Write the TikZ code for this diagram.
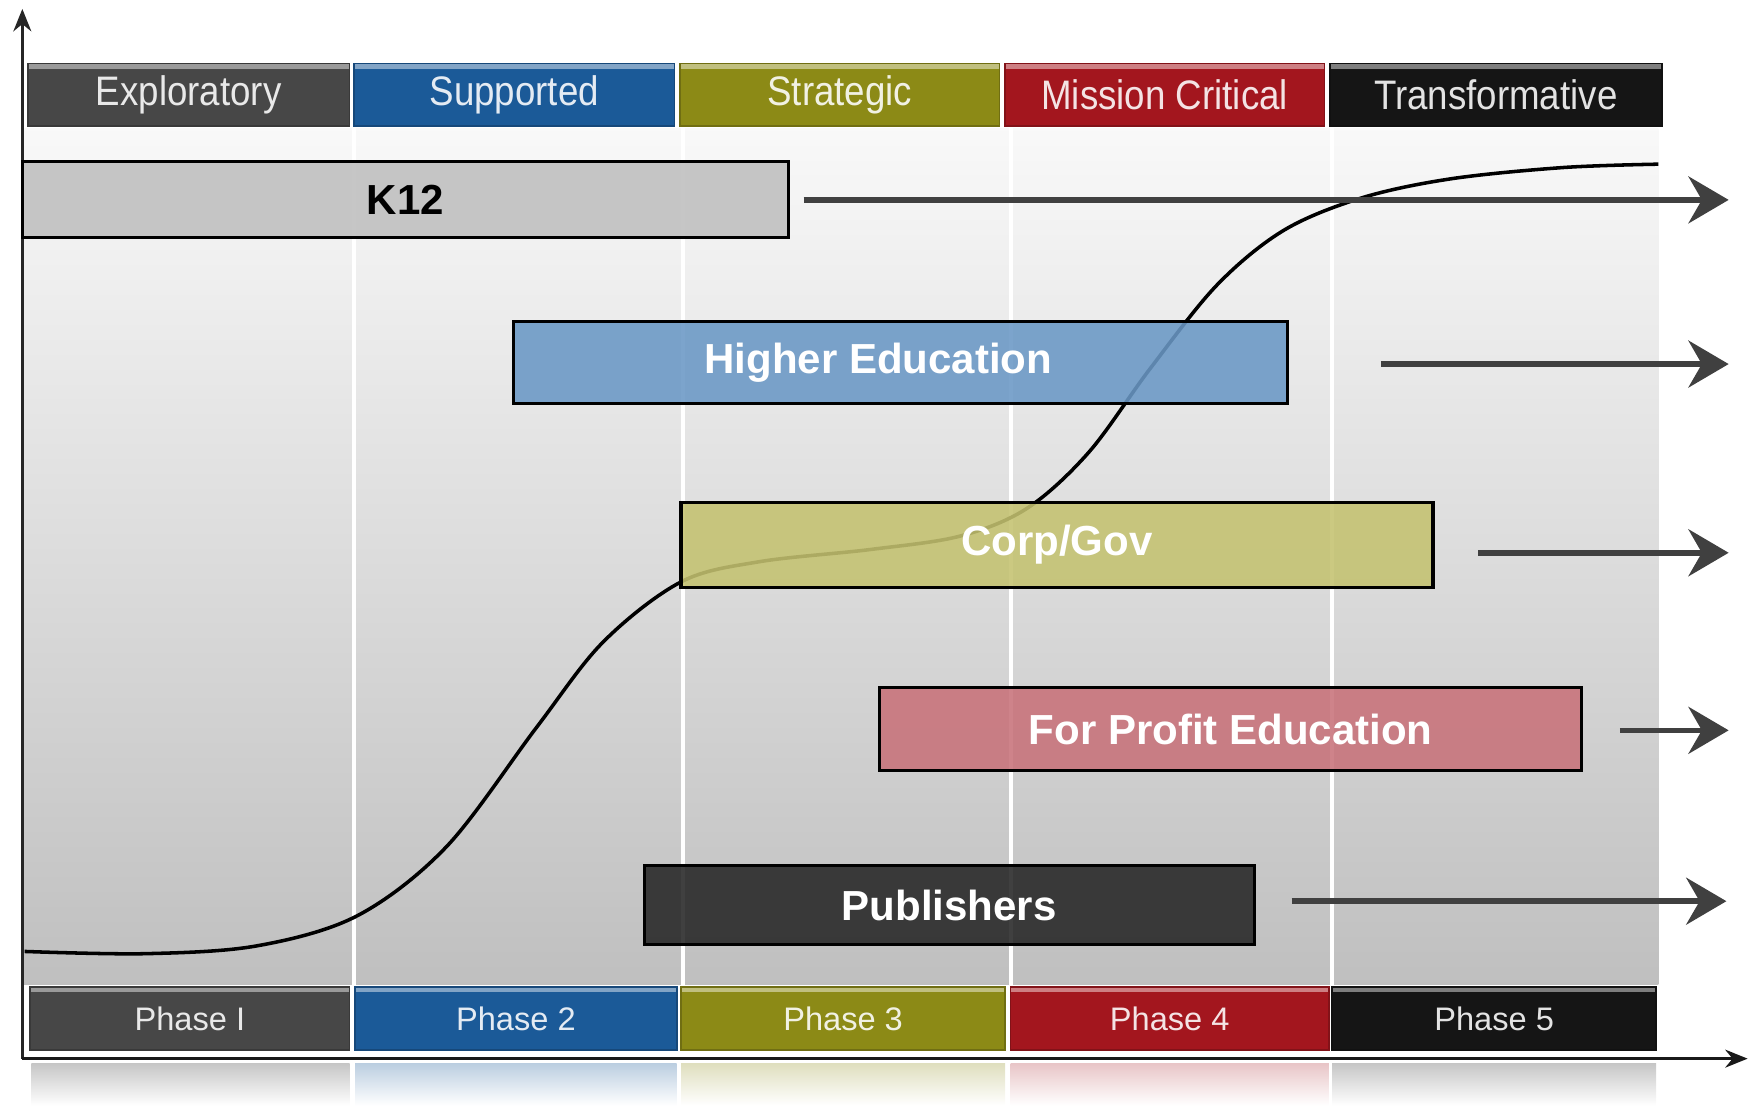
\documentclass[tikz,border=0pt]{standalone}
\usepackage{fontspec}
\setmainfont{Liberation Sans}
\usetikzlibrary{arrows.meta}

\definecolor{explgray}{HTML}{474747}
\definecolor{suppblue}{HTML}{1B5A98}
\definecolor{stratolive}{HTML}{8C8A16}
\definecolor{critred}{HTML}{A3161E}
\definecolor{transblack}{HTML}{151515}
\definecolor{k12fill}{HTML}{BFBFBF}
\definecolor{hefill}{HTML}{6A98C5}
\definecolor{corpfill}{HTML}{C4C270}
\definecolor{profitfill}{HTML}{C8727A}
\definecolor{pubfill}{HTML}{262626}
\definecolor{flowgray}{HTML}{404040}

\newcommand{\narrowtext}[1]{\scalebox{0.89}[1]{#1}}

\tikzset{
	stagebar/.style={rectangle, fill=#1, draw=#1!80!black, line width=0.4pt,
		text=#1!12!white, minimum height=0.56cm, inner sep=0pt,
		font=\fontsize{10.5}{12}\selectfont,
		path picture={\fill[#1!55!white] (path picture bounding box.north west)
			rectangle ([yshift=-1.3pt]path picture bounding box.north east);}},
	phasebar/.style={stagebar=#1, font=\fontsize{8.3}{10}\selectfont},
	segment/.style={rectangle, draw=black, line width=0.8pt, fill=#1,
		fill opacity=0.88, text opacity=1, text=white, inner sep=0pt,
		font=\bfseries\fontsize{10.7}{13}\selectfont},
	flow/.style={draw=flowgray, line width=1.4pt,
		-{Stealth[length=0.36cm,width=0.42cm,inset=0.12cm]}},
}

\begin{document}
\begin{tikzpicture}[x=0.01cm, y=-0.01cm]
	
	\useasboundingbox (0,0) rectangle (1568,990);
	
	% background panel and column lines
	\shade [top color=gray!5, middle color=gray!20, bottom color=gray!50] (20,115) rectangle (1485,882);
	\draw [white, line width=1pt] (317,115) -- (317,882);
	\draw [white, line width=1pt] (612,115) -- (612,882);
	\draw [white, line width=1pt] (905,115) -- (905,882);
	\draw [white, line width=1pt] (1193,115) -- (1193,882);
	
	% reflection under the time axis
	\shade [top color=gray!45, bottom color=white] (28,952) rectangle (313,990);
	\shade [top color=suppblue!30, bottom color=white] (318,952) rectangle (606,990);
	\shade [top color=stratolive!28, bottom color=white] (610,952) rectangle (900,990);
	\shade [top color=critred!25, bottom color=white] (905,952) rectangle (1190,990);
	\shade [top color=gray!45, bottom color=white] (1193,952) rectangle (1483,990);
	
	% stages
	\node [stagebar=explgray, minimum width=2.88cm] (expl) at (169,85) {\narrowtext{Exploratory}};
	\node [stagebar=suppblue, minimum width=2.87cm] (supp) at (460.5,85) {\narrowtext{Supported}};
	\node [stagebar=stratolive, minimum width=2.86cm] (strat) at (752,85) {\narrowtext{Strategic}};
	\node [stagebar=critred, minimum width=2.86cm] (crit) at (1043,85) {\narrowtext{Mission Critical}};
	\node [stagebar=transblack, minimum width=2.97cm] (trans) at (1339.5,85) {\narrowtext{Transformative}};
	
	% phases
	\node [phasebar=explgray, minimum width=2.86cm] (ph1) at (170,912) {Phase I};
	\node [phasebar=suppblue, minimum width=2.88cm] (ph2) at (462,912) {Phase 2};
	\node [phasebar=stratolive, minimum width=2.90cm] (ph3) at (755,912) {Phase 3};
	\node [phasebar=critred, minimum width=2.85cm] (ph4) at (1047.5,912) {Phase 4};
	\node [phasebar=transblack, minimum width=2.90cm] (ph5) at (1338,912) {Phase 5};
	
	% axes
	\coordinate (origin) at (20,948);
	\coordinate (ytop) at (20,8);
	\coordinate (xend) at (1565,948);
	\draw [line width=0.8pt, black!85, -{Stealth[length=0.2cm,width=0.16cm]}] (origin) -- (ytop);
	\draw [line width=0.8pt, black!90, -{Stealth[length=0.2cm,width=0.16cm]}] (origin) -- (xend);
	
	% adoption curve
	\draw [line width=0.9pt, black] plot [smooth, tension=0.55] coordinates {
		(22,852) (130,854) (230,847) (320,820) (400,758) (480,652)
		(540,575) (610,521) (680,503) (780,492) (860,480)
		(920,455) (975,405) (1030,330) (1090,255) (1150,206)
		(1220,177) (1300,160) (1400,150) (1485,147)};
	
	% segments
	\node [segment=k12fill, text=black, minimum width=6.86cm, minimum height=0.68cm] (k12) at (363,179) {K12};
	\node [segment=hefill, minimum width=6.93cm, minimum height=0.73cm] (he) at (806.5,324.5) {Higher Education\hspace*{0.4cm}};
	\node [segment=corpfill, minimum width=6.73cm, minimum height=0.76cm] (corp) at (946.5,488) {Corp/Gov};
	\node [segment=profitfill, minimum width=6.28cm, minimum height=0.74cm] (profit) at (1102,653) {For Profit Education};
	\node [segment=pubfill, minimum width=5.46cm, minimum height=0.71cm] (pub) at (850,810.5) {Publishers};
	
	\coordinate (k12end) at (1548,179);
	\coordinate (heend) at (1548,326);
	\coordinate (corpend) at (1548,495);
	\coordinate (profitend) at (1548,654);
	\coordinate (pubend) at (1546,807);
	
	\draw [flow, shorten <=0.12cm] (k12.east |- k12end) -- (k12end);
	\draw [flow, shorten <=0.82cm] (he.east |- heend) -- (heend);
	\draw [flow, shorten <=0.39cm] (corp.east |- corpend) -- (corpend);
	\draw [flow, shorten <=0.33cm] (profit.east |- profitend) -- (profitend);
	\draw [flow, shorten <=0.32cm] (pub.east |- pubend) -- (pubend);
	
\end{tikzpicture}
\end{document}
